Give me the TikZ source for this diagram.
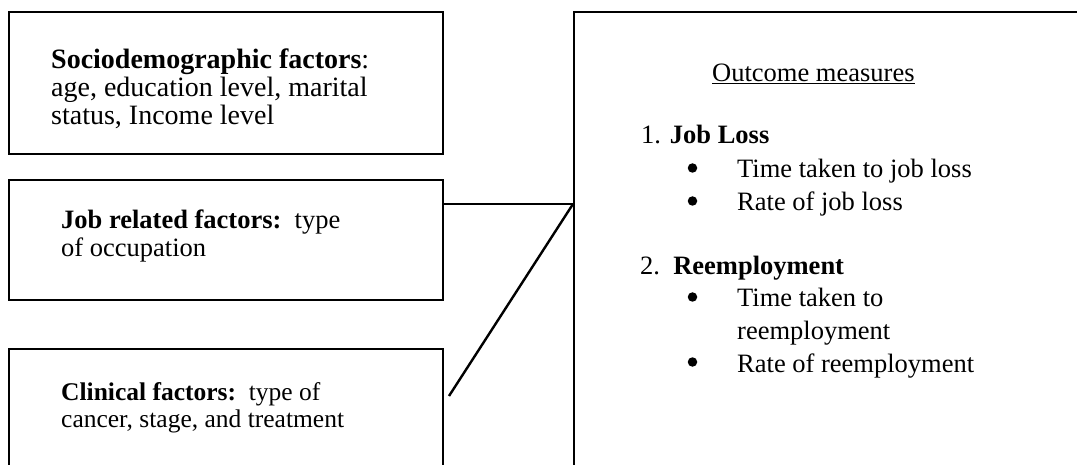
\documentclass[tikz,border=0pt]{standalone}
\usepackage{fontspec}
\setmainfont{Liberation Serif}
\tikzset{
  box/.style={draw=black, line width=2.4pt, fill=none, inner sep=0pt, anchor=north west},
  txt/.style={inner sep=0pt, anchor=base west, text=black},
  bul/.style={circle, fill=black, draw=none, inner sep=0pt, minimum size=9.5pt},
  link/.style={draw=black, line width=2.4pt},
  fa/.style={font=\fontsize{28}{28}\selectfont},
  fb/.style={font=\fontsize{26.5}{28}\selectfont},
  fc/.style={font=\fontsize{25.5}{28}\selectfont},
  fr/.style={font=\fontsize{26.5}{28}\selectfont}
}
\begin{document}
\begin{tikzpicture}[x=1pt,y=-1pt]
\useasboundingbox (0,0) rectangle (1077,465);
\clip (0,0) rectangle (1077,465);
\fill[white] (0,0) rectangle (1077,465);
% boxes
\node[box, minimum width=434pt, minimum height=142pt] (socio) at (8,11) {};
\node[box, minimum width=434pt, minimum height=120pt] (job) at (8,179) {};
\node[box, minimum width=434pt, minimum height=160pt] (clin) at (8,348) {};
\node[box, minimum width=560pt, minimum height=500pt] (outc) at (573,11) {};
% box 1 text
\node[txt, fa] (s1) at (51,69) {\textbf{Sociodemographic factors}:};
\node[txt, fa] (s2) at (51,97) {age, education level, marital};
\node[txt, fa] (s3) at (51,125) {status, Income level};
% box 2 text
\node[txt, fb] (j1) at (61,229) {\textbf{Job related factors:}\ \ type};
\node[txt, fb] (j2) at (61,257) {of occupation};
% box 3 text
\node[txt, fc] (c1) at (61,400) {\textbf{Clinical factors:}\ \ type of};
\node[txt, fc] (c2) at (61,427) {cancer, stage, and treatment};
% outcome text
\node[txt, fr] (o0) at (712,82) {\underline{Outcome measures}};
\node[txt, fr] (o1) at (641,144) {1. \textbf{Job Loss}};
\node[bul] (b1) at (692.5,168) {};
\node[txt, fr] (o2) at (737,178) {Time taken to job loss};
\node[bul] (b2) at (692.5,201) {};
\node[txt, fr] (o3) at (737,211) {Rate of job loss};
\node[txt, fr] (o4) at (640,275) {2.\ \ \textbf{Reemployment}};
\node[bul] (b3) at (692.5,297) {};
\node[txt, fr] (o5) at (737,307) {Time taken to};
\node[txt, fr] (o6) at (737,339) {reemployment};
\node[bul] (b4) at (692.5,362) {};
\node[txt, fr] (o7) at (737,372) {Rate of reemployment};
% connectors
\coordinate (jobout) at ([yshift=-25pt]job.north east);
\coordinate (hub) at (outc.west |- jobout);
\coordinate (clinend) at (449,396);
\draw[link] (jobout) -- (hub);
\draw[link] (clinend) -- (hub);
\end{tikzpicture}
\end{document}
